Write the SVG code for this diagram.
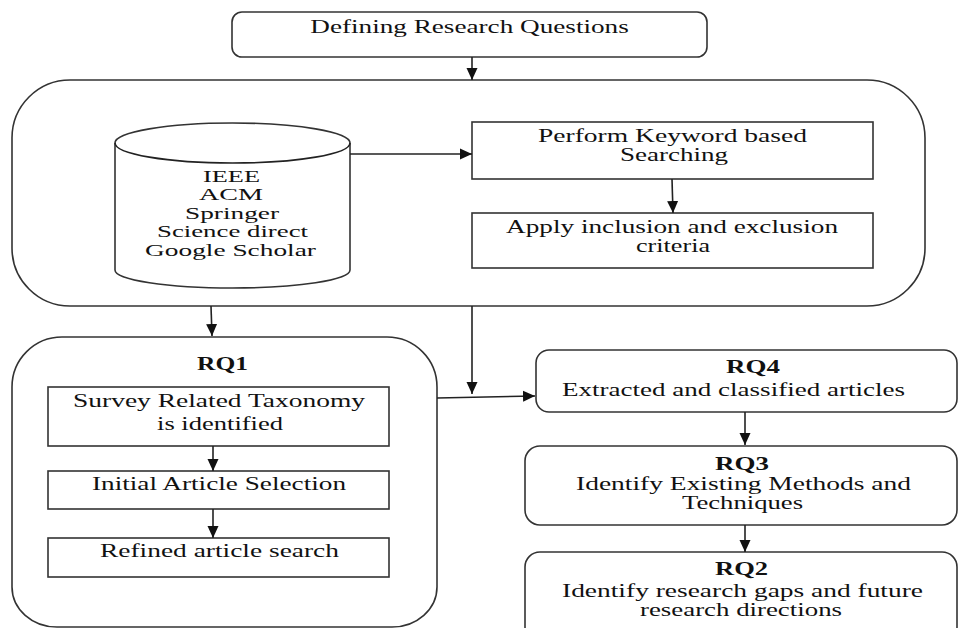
<svg xmlns="http://www.w3.org/2000/svg" width="960" height="628" viewBox="0 0 960 628">
<defs>
<marker id="ah" markerUnits="userSpaceOnUse" markerWidth="13" markerHeight="13" viewBox="0 0 13 13" refX="12" refY="6.5" orient="auto">
<path d="M0,1 L12,6.5 L0,12 Z" fill="#111"/>
</marker>
<style>
.t{font-family:"Liberation Serif","Times New Roman",serif;font-size:18px;fill:#111;text-anchor:middle}
.db{font-size:16px}
.b{font-weight:bold}
.box{fill:#fff;stroke:#333;stroke-width:1.6}
.ln{fill:none;stroke:#222;stroke-width:1.6}
</style>
</defs>
<rect width="960" height="628" fill="#fff"/>

<g id="define">
<rect class="box" x="232" y="12" width="475" height="45" rx="10"/>
<text class="t" transform="translate(469.5,33) scale(1.3,1)" textLength="245" lengthAdjust="spacingAndGlyphs">Defining Research Questions</text>
</g>

<g id="search-container">
<rect class="box" x="12" y="80" width="913" height="226" rx="58"/>
</g>

<g id="databases">
<path class="box" d="M115,143 L115,270 A117.5,18 0 0 0 350,270 L350,143 A117.5,20 0 0 0 115,143 Z"/>
<path class="ln" d="M115,143 A117.5,20 0 0 0 350,143"/>
<text class="t db" transform="translate(231.5,181.5) scale(1.3,1)" textLength="43.8" lengthAdjust="spacingAndGlyphs">IEEE</text>
<text class="t db" transform="translate(231,200) scale(1.3,1)" textLength="49.2" lengthAdjust="spacingAndGlyphs">ACM</text>
<text class="t db" transform="translate(232,218.5) scale(1.3,1)" textLength="72.3" lengthAdjust="spacingAndGlyphs">Springer</text>
<text class="t db" transform="translate(232.5,237) scale(1.3,1)" textLength="116.2" lengthAdjust="spacingAndGlyphs">Science direct</text>
<text class="t db" transform="translate(230.5,255.5) scale(1.3,1)" textLength="131.5" lengthAdjust="spacingAndGlyphs">Google Scholar</text>
</g>

<g id="keyword">
<rect class="box" x="472" y="122" width="401" height="57"/>
<text class="t" transform="translate(672.5,142) scale(1.3,1)" textLength="206.9" lengthAdjust="spacingAndGlyphs">Perform Keyword based</text>
<text class="t" transform="translate(674,161) scale(1.3,1)" textLength="83.1" lengthAdjust="spacingAndGlyphs">Searching</text>
</g>

<g id="criteria">
<rect class="box" x="472" y="213" width="401" height="55"/>
<text class="t" transform="translate(672,233) scale(1.3,1)" textLength="255.4" lengthAdjust="spacingAndGlyphs">Apply inclusion and exclusion</text>
<text class="t" transform="translate(673,252) scale(1.3,1)" textLength="56.9" lengthAdjust="spacingAndGlyphs">criteria</text>
</g>

<g id="rq1">
<path class="box" d="M12,387 A50,50 0 0 1 62,337 L387,337 A50,50 0 0 1 437,387 L437,587 A45,40 0 0 1 392,627 L57,627 A45,40 0 0 1 12,587 Z"/>
<text class="t b" transform="translate(222.5,370) scale(1.3,1)" textLength="39.2" lengthAdjust="spacingAndGlyphs">RQ1</text>
</g>

<g id="taxonomy">
<rect class="box" x="48" y="387" width="341" height="59"/>
<text class="t" transform="translate(219,407) scale(1.3,1)" textLength="224.6" lengthAdjust="spacingAndGlyphs">Survey Related Taxonomy</text>
<text class="t" transform="translate(220,430) scale(1.3,1)" textLength="96.9" lengthAdjust="spacingAndGlyphs">is identified</text>
</g>

<g id="initial">
<rect class="box" x="48" y="471" width="341" height="38"/>
<text class="t" transform="translate(219,490) scale(1.3,1)" textLength="195.4" lengthAdjust="spacingAndGlyphs">Initial  Article  Selection</text>
</g>

<g id="refined">
<rect class="box" x="48" y="538" width="341" height="39"/>
<text class="t" transform="translate(219.5,557) scale(1.3,1)" textLength="183.8" lengthAdjust="spacingAndGlyphs">Refined article  search</text>
</g>

<g id="rq4">
<rect class="box" x="536" y="350" width="421" height="62" rx="13"/>
<text class="t b" transform="translate(753,373) scale(1.3,1)" textLength="41.5" lengthAdjust="spacingAndGlyphs">RQ4</text>
<text class="t" transform="translate(733.5,396) scale(1.3,1)" textLength="263.8" lengthAdjust="spacingAndGlyphs">Extracted  and  classified  articles</text>
</g>

<g id="rq3">
<rect class="box" x="525" y="446" width="432" height="79" rx="15"/>
<text class="t b" transform="translate(742,470) scale(1.3,1)" textLength="41.5" lengthAdjust="spacingAndGlyphs">RQ3</text>
<text class="t" transform="translate(743.5,490) scale(1.3,1)" textLength="257.7" lengthAdjust="spacingAndGlyphs">Identify Existing  Methods  and</text>
<text class="t" transform="translate(742.5,509) scale(1.3,1)" textLength="93.1" lengthAdjust="spacingAndGlyphs">Techniques</text>
</g>

<g id="rq2">
<rect class="box" x="525" y="552" width="432" height="90" rx="15"/>
<text class="t b" transform="translate(741.5,575) scale(1.3,1)" textLength="40.8" lengthAdjust="spacingAndGlyphs">RQ2</text>
<text class="t" transform="translate(742.5,597) scale(1.3,1)" textLength="277.7" lengthAdjust="spacingAndGlyphs">Identify research  gaps  and  future</text>
<text class="t" transform="translate(741,616) scale(1.3,1)" textLength="155.4" lengthAdjust="spacingAndGlyphs">research directions</text>
</g>

<g id="connectors">
<line class="ln" x1="472" y1="57" x2="472" y2="80" marker-end="url(#ah)"/>
<line class="ln" x1="350" y1="154" x2="472" y2="154" marker-end="url(#ah)"/>
<line class="ln" x1="672" y1="179" x2="673" y2="213" marker-end="url(#ah)"/>
<line class="ln" x1="211" y1="306" x2="212" y2="336" marker-end="url(#ah)"/>
<line class="ln" x1="472" y1="306" x2="472" y2="394" marker-end="url(#ah)"/>
<line class="ln" x1="437" y1="398" x2="535" y2="396" marker-end="url(#ah)"/>
<line class="ln" x1="213" y1="446" x2="213" y2="471" marker-end="url(#ah)"/>
<line class="ln" x1="213" y1="509" x2="213" y2="538" marker-end="url(#ah)"/>
<line class="ln" x1="745" y1="412" x2="745" y2="445" marker-end="url(#ah)"/>
<line class="ln" x1="745" y1="525" x2="745" y2="552" marker-end="url(#ah)"/>
</g>
</svg>
